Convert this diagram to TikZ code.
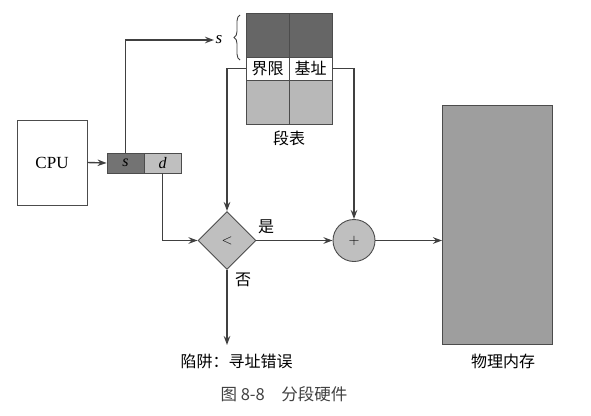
\documentclass[tikz,border=0pt]{standalone}
\usepackage{fontspec}
\setmainfont{Liberation Serif}
\newfontfamily\cjk{Noto Sans CJK SC}
\usepackage{tikz}
\usetikzlibrary{shapes.geometric,arrows.meta,decorations.pathreplacing}

\begin{document}
\begin{tikzpicture}[x=1pt,y=-1pt,
  line width=1.4pt,
  >={Stealth[length=9pt,width=6.5pt]},
  box/.style={rectangle,draw=black!70,line width=0.9pt,inner sep=0pt},
  cell/.style={box,minimum width=43pt},
  cn/.style={font=\cjk\fontsize{16}{18}\selectfont,inner sep=1pt},
  wire/.style={draw=black!75}]
\useasboundingbox (0,0) rectangle (591,415);

% cpu and logical address
\node (cpu) at (52,162.5) [box,minimum width=70pt,minimum height=85pt,font=\fontsize{17}{19}\selectfont] {CPU};
\node (sreg) at (125.5,163) [box,fill=black!55,minimum width=37pt,minimum height=20pt,font=\itshape\fontsize{16}{18}\selectfont] {s};
\node (dreg) at (162.5,163) [box,fill=black!25,minimum width=37pt,minimum height=20pt,font=\itshape\fontsize{16}{18}\selectfont] {d};

% segment table
\node (tA) at (267.5,35) [cell,fill=black!60,minimum height=44pt] {};
\node (tB) at (310.5,35) [cell,fill=black!60,minimum height=44pt] {};
\node (limit) at (267.5,68.5) [cell,fill=white,minimum height=23pt,cn] {界限};
\node (base) at (310.5,68.5) [cell,fill=white,minimum height=23pt,cn] {基址};
\node (bA) at (267.5,102) [cell,fill=black!28,minimum height=44pt] {};
\node (bB) at (310.5,102) [cell,fill=black!28,minimum height=44pt] {};
\node (tbl) at (289,138) [cn] {段表};
\node (sidx) at (219,40) [font=\itshape\fontsize{17}{19}\selectfont,inner sep=1pt] {s};
\draw[black!75,line width=0.9pt,decorate,decoration={brace,amplitude=6pt}] (240,60) -- (240,15);

% compare and add
\node (cmp) at (227,240.5) [diamond,draw=black!70,line width=0.9pt,fill=black!25,minimum width=58pt,minimum height=58pt,inner sep=0pt,font=\fontsize{14}{16}\selectfont] {$<$};
\node (add) at (354,240.5) [circle,draw=black!70,line width=0.9pt,fill=black!25,minimum size=42pt,inner sep=0pt,font=\fontsize{14}{16}\selectfont] {$+$};
\node (yes) at (266,227) [cn] {是};
\node (no) at (243,280) [cn] {否};
\node (trap) at (236.5,361) [cn] {陷阱：寻址错误};

% physical memory
\node (mem) at (497.5,224.5) [box,fill=black!38,minimum width=110pt,minimum height=239pt] {};
\node (memlbl) at (503,361) [cn] {物理内存};

\node (fig) at (284,394) [cn,font=\cjk\fontsize{16.5}{18}\selectfont,text=black!75] {图 8-8\quad 分段硬件};

\draw[wire,->] (cpu.east) -- (sreg.west);
\draw[wire,->] (sreg.north) |- (sidx.west);
\draw[wire,->] (dreg.south) |- (cmp.west);
\draw[wire,->] (limit.west) -| (cmp.north);
\draw[wire,->] (base.east) -| (add.north);
\draw[wire,->] (cmp.east) -- (add.west);
\draw[wire,->] (add.east) -- (add.east -| mem.west);
\draw[wire,->] (cmp.south) -- (cmp.south |- 0,345);
\end{tikzpicture}
\end{document}
